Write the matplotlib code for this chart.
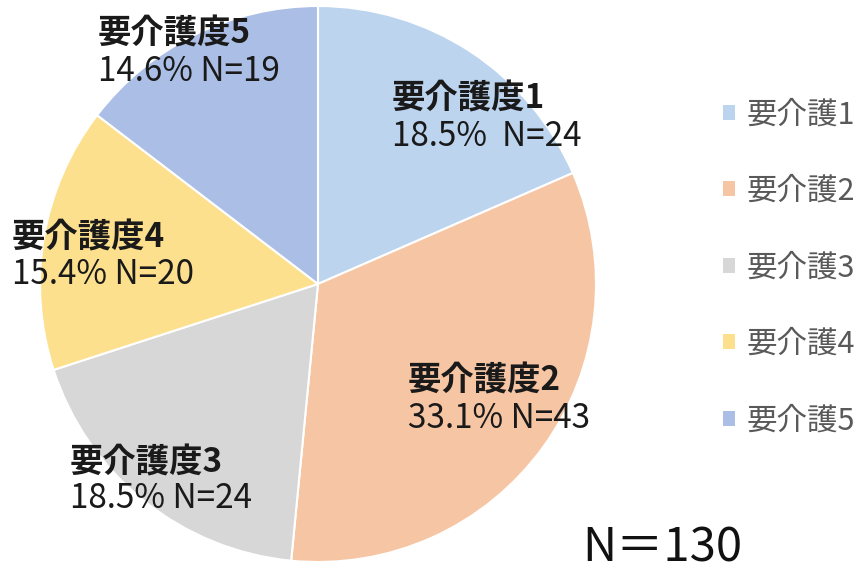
import matplotlib.pyplot as plt
from matplotlib.patches import Patch

plt.rcParams['font.family'] = ['Noto Sans CJK JP', 'DejaVu Sans']

# care level counts (total N=130)
levels = ['要介護度1', '要介護度2', '要介護度3', '要介護度4', '要介護度5']
legend_names = ['要介護1', '要介護2', '要介護3', '要介護4', '要介護5']
counts = [24, 43, 24, 20, 19]
percents = [18.5, 33.1, 18.5, 15.4, 14.6]
colors = ['#bdd4ef', '#f6c6a4', '#d7d7d7', '#fde08d', '#abbfe6']

fig = plt.figure(figsize=(8.67, 5.71), dpi=100)
ax = fig.add_axes([40 / 867, 9 / 571, 556 / 867, 556 / 571])

wedges, _ = ax.pie(counts, colors=colors, startangle=90, counterclock=False,
                   wedgeprops=dict(edgecolor='white', linewidth=1.5))
ax.set_xlim(-1, 1)
ax.set_ylim(-1, 1)
ax.set_aspect('equal')

# label anchors (left edge, first line y, second line y)
label_pos = [(0.266, 0.665, 0.530),
             (0.324, -0.350, -0.485),
             (-0.892, -0.645, -0.772),
             (-1.101, 0.165, 0.035),
             (-0.791, 0.900, 0.765)]
for i, (x, y1, y2) in enumerate(label_pos):
    sep = '  ' if i == 0 else ' '
    ax.text(x, y1, levels[i], ha='left', va='center', fontsize=24,
            fontweight='bold', color='#1a1a1a', clip_on=False)
    ax.text(x, y2, f'{percents[i]}%{sep}N={counts[i]}', ha='left', va='center',
            fontsize=24, color='#1a1a1a', clip_on=False)

handles = [Patch(facecolor=c, edgecolor='none') for c in colors]
fig.legend(handles, legend_names, loc='upper left',
           bbox_to_anchor=(711 / 867, 1 - 87 / 571), frameon=False,
           fontsize=22, labelcolor='#595959', handlelength=0.38,
           handleheight=0.38, handletextpad=0.38, labelspacing=1.49,
           borderaxespad=0)

fig.text(582 / 867, 1 - 548 / 571, 'N＝' + str(sum(counts)), fontsize=34,
         color='#111111', ha='left', va='center')

fig.savefig('out.png', dpi=100, facecolor='white')
